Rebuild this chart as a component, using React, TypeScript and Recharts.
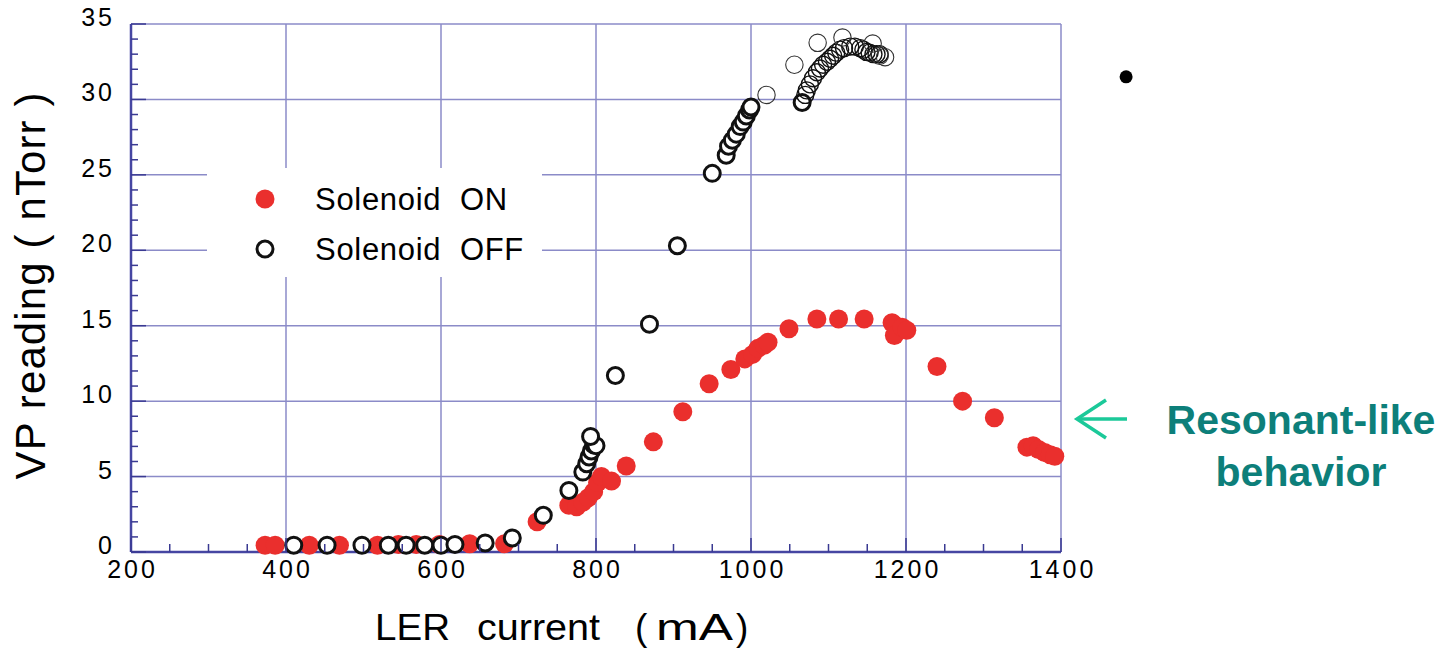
import { ScatterChart, Scatter, XAxis, YAxis, CartesianGrid, Legend, ReferenceDot } from 'recharts'

// [LER current (mA), VP reading (nTorr)]
const solenoidOn: [number, number][] = [
  [373, 0.45], [386, 0.45], [430, 0.45], [469, 0.45], [518, 0.45], [545, 0.5], [568, 0.5],
  [598, 0.5], [637, 0.55], [682, 0.55], [724, 2.0], [765, 3.1], [775, 3.0], [783, 3.3],
  [790, 3.6], [797, 4.0], [802, 4.6], [807, 5.0], [820, 4.7], [839, 5.7], [874, 7.3],
  [912, 9.3], [946, 11.15], [974, 12.1], [992, 12.8], [1002, 13.1], [1009, 13.5], [1017, 13.7],
  [1022, 13.9], [1049, 14.8], [1085, 15.45], [1113, 15.45], [1146, 15.45], [1182, 15.2],
  [1187, 15.0], [1185, 14.35], [1195, 14.9], [1201, 14.7], [1240, 12.3], [1273, 10.0],
  [1314, 8.9], [1356, 6.95], [1364, 7.05], [1371, 6.8], [1379, 6.6], [1386, 6.45], [1392, 6.35],
]

const solenoidOff: [number, number][] = [
  [410, 0.45], [453, 0.45], [498, 0.45], [532, 0.45], [555, 0.45], [579, 0.45], [600, 0.45],
  [618, 0.5], [657, 0.6], [692, 0.93], [732, 2.43], [765, 4.08], [783, 5.3], [788, 5.85],
  [791, 6.3], [794, 6.7], [797, 7.1], [800, 7.05], [793, 7.66], [825, 11.7], [869, 15.1],
  [905, 20.3], [950, 25.1], [968, 26.3], [971, 26.9], [976, 27.3], [981, 27.7], [986, 28.2],
  [990, 28.5], [994, 28.9], [998, 29.3], [1000, 29.5], [1066, 29.8],
]

// dense overlapping run near saturation, drawn with a lighter ring
const solenoidOffArc: [number, number][] = [
  [1070, 30.3], [1072, 30.6], [1076, 31.0], [1080, 31.4], [1085, 31.8], [1089, 32.05],
  [1093, 32.3], [1098, 32.5], [1102, 32.7], [1106, 32.9], [1110, 33.1], [1115, 33.3],
  [1120, 33.4], [1128, 33.5], [1134, 33.5], [1141, 33.4], [1145, 33.3], [1149, 33.15],
  [1153, 33.1], [1158, 33.0], [1162, 33.0], [1166, 33.0],
]

const solenoidOffFaint: [number, number][] = [
  [1020, 30.3], [1056, 32.3], [1086, 33.75], [1118, 34.1], [1157, 33.7], [1166, 32.9], [1173, 32.8],
]

const strayPoint: [number, number] = [1484, 31.5]

const xMajor = [200, 400, 600, 800, 1000, 1200, 1400]
const yMajor = [0, 5, 10, 15, 20, 25, 30, 35]
const xTicks = Array.from({ length: 25 }, (_, i) => 200 + i * 50)
const yTicks = Array.from({ length: 36 }, (_, i) => i)

const ON_NAME = 'Solenoid  ON'
const OFF_NAME = 'Solenoid  OFF'
const legendOrder = [ON_NAME, OFF_NAME]

const RED = '#ea2f2d'
const GRID = '#8b8bc8'
const FRAME = '#4646a2'
const TICK = '#3a3a92'
const FONT = '"Liberation Sans", Arial, Helvetica, sans-serif'

const tickText = { fontFamily: FONT, fontSize: 25, letterSpacing: 3, fill: '#000' }

const rows = (pts: [number, number][]) => pts.map(([current, reading]) => ({ current, reading }))

const redDot = (p: any) => <circle cx={p.cx} cy={p.cy} r={9.5} fill={RED} />
const ring = (r: number, w: number, fill: string, stroke = '#111') => (p: any) => (
  <circle cx={p.cx} cy={p.cy} r={r} fill={fill} stroke={stroke} strokeWidth={w} />
)

function BottomTick({ x, y, payload }: any) {
  const major = payload.value % 200 === 0
  return (
    <g>
      <line x1={x} y1={y} x2={x} y2={y - (major ? 14 : 8)} stroke={TICK} strokeWidth={1.5} />
      {major && (
        <text x={x + 1.5} y={y + 26} textAnchor="middle" style={tickText}>
          {payload.value}
        </text>
      )}
    </g>
  )
}

function TopTick({ x, y, payload }: any) {
  const major = payload.value % 200 === 0
  return <line x1={x} y1={y} x2={x} y2={y + (major ? 14 : 8)} stroke={TICK} strokeWidth={1.5} />
}

function LeftTick({ x, y, payload }: any) {
  const major = payload.value % 5 === 0
  return (
    <g>
      <line x1={x} y1={y} x2={x + (major ? 15 : 7)} y2={y} stroke={TICK} strokeWidth={1.5} />
      {major && (
        <text x={x - 16} y={y + 2} textAnchor="end" style={tickText}>
          {payload.value}
        </text>
      )}
    </g>
  )
}

function RightTick({ x, y, payload }: any) {
  const major = payload.value % 5 === 0
  return <line x1={x} y1={y} x2={x - (major ? 15 : 7)} y2={y} stroke={TICK} strokeWidth={1.5} />
}

function LegendBox({ payload }: any) {
  const items = legendOrder
    .map((name) => (payload || []).find((e: any) => e.value === name))
    .filter(Boolean)
  return (
    <svg width={335} height={109} style={{ display: 'block', background: '#fff' }}>
      {items.map((e: any, i: number) => {
        const cy = 31 + i * 50
        return (
          <g key={e.value}>
            {e.value === ON_NAME ? (
              <circle cx={58} cy={cy} r={9.5} fill={RED} />
            ) : (
              <circle cx={58} cy={cy} r={8} fill="#fff" stroke="#111" strokeWidth={3} />
            )}
            <text
              x={108}
              y={cy + 11}
              style={{ fontFamily: FONT, fontSize: 31, letterSpacing: 0.7, whiteSpace: 'pre', fill: '#000' }}
            >
              {e.value}
            </text>
          </g>
        )
      })}
    </svg>
  )
}

export default function App() {
  return (
    <div style={{ position: 'absolute', left: 0, top: 0, width: 1456, height: 650, background: '#fff' }}>
      <ScatterChart width={1456} height={650} margin={{ top: 24, right: 395, bottom: 58, left: 51 }}>
        <CartesianGrid
          stroke={GRID}
          strokeWidth={1.5}
          horizontalValues={yMajor}
          verticalValues={xMajor}
        />
        <XAxis
          type="number"
          dataKey="current"
          domain={[200, 1400]}
          ticks={xTicks}
          interval={0}
          height={40}
          tickSize={0}
          tickMargin={0}
          tick={<BottomTick />}
          axisLine={{ stroke: FRAME, strokeWidth: 2.5 }}
        />
        <XAxis
          xAxisId="top"
          orientation="top"
          type="number"
          domain={[200, 1400]}
          ticks={xTicks}
          interval={0}
          height={0}
          tickSize={0}
          tickMargin={0}
          tick={<TopTick />}
          axisLine={{ stroke: FRAME, strokeWidth: 2.5 }}
        />
        <YAxis
          type="number"
          dataKey="reading"
          domain={[0, 35]}
          ticks={yTicks}
          interval={0}
          width={80}
          tickSize={0}
          tickMargin={0}
          tick={<LeftTick />}
          axisLine={{ stroke: FRAME, strokeWidth: 2.5 }}
        />
        <YAxis
          yAxisId="right"
          orientation="right"
          type="number"
          domain={[0, 35]}
          ticks={yTicks}
          interval={0}
          width={0}
          tickSize={0}
          tickMargin={0}
          tick={<RightTick />}
          axisLine={{ stroke: FRAME, strokeWidth: 2.5 }}
        />
        <Legend
          layout="vertical"
          align="center"
          verticalAlign="middle"
          width={335}
          height={109}
          wrapperStyle={{ left: 207, top: 168, width: 335, height: 109 }}
          content={<LegendBox />}
        />
        <Scatter name={ON_NAME} data={rows(solenoidOn)} fill={RED} shape={redDot} isAnimationActive={false} />
        <Scatter name={OFF_NAME} data={rows(solenoidOff)} fill="#fff" shape={ring(8, 3, '#fff')} isAnimationActive={false} />
        <Scatter
          name="arc"
          legendType="none"
          data={rows(solenoidOffArc)}
          shape={ring(8.5, 1.4, 'none')}
          isAnimationActive={false}
        />
        <Scatter
          name="faint"
          legendType="none"
          data={rows(solenoidOffFaint)}
          shape={ring(8.7, 1.1, 'none', '#333')}
          isAnimationActive={false}
        />
        <ReferenceDot x={strayPoint[0]} y={strayPoint[1]} r={6.5} fill="#000" stroke="none" ifOverflow="visible" />
      </ScatterChart>

      <svg
        width={1456}
        height={650}
        style={{ position: 'absolute', left: 0, top: 0, pointerEvents: 'none' }}
      >
        <text
          transform="translate(45,286) rotate(-90)"
          textAnchor="middle"
          textLength={387}
          lengthAdjust="spacing"
          style={{ fontFamily: FONT, fontSize: 42, whiteSpace: 'pre', fill: '#000' }}
        >
          VP reading ( nTorr )
        </text>
        <text y={640} style={{ fontFamily: FONT, fontSize: 37, fill: '#000' }}>
          <tspan x={375} textLength={75} lengthAdjust="spacingAndGlyphs">LER</tspan>
          <tspan x={477} textLength={123} lengthAdjust="spacingAndGlyphs">current</tspan>
          <tspan x={635}>(</tspan>
          <tspan x={656} textLength={77} lengthAdjust="spacingAndGlyphs">mA</tspan>
          <tspan x={736}>)</tspan>
        </text>

        <g stroke="#1bc999" strokeWidth={3.5} fill="none">
          <line x1={1077} y1={419} x2={1127} y2={419} />
          <polyline points="1106,400 1077,419 1106,438" />
        </g>
        <g style={{ fontFamily: FONT, fontSize: 41, fontWeight: 700, fill: '#0d7f7a' }} textAnchor="middle">
          <text x={1301} y={434}>Resonant-like</text>
          <text x={1301} y={486}>behavior</text>
        </g>
      </svg>
    </div>
  )
}
